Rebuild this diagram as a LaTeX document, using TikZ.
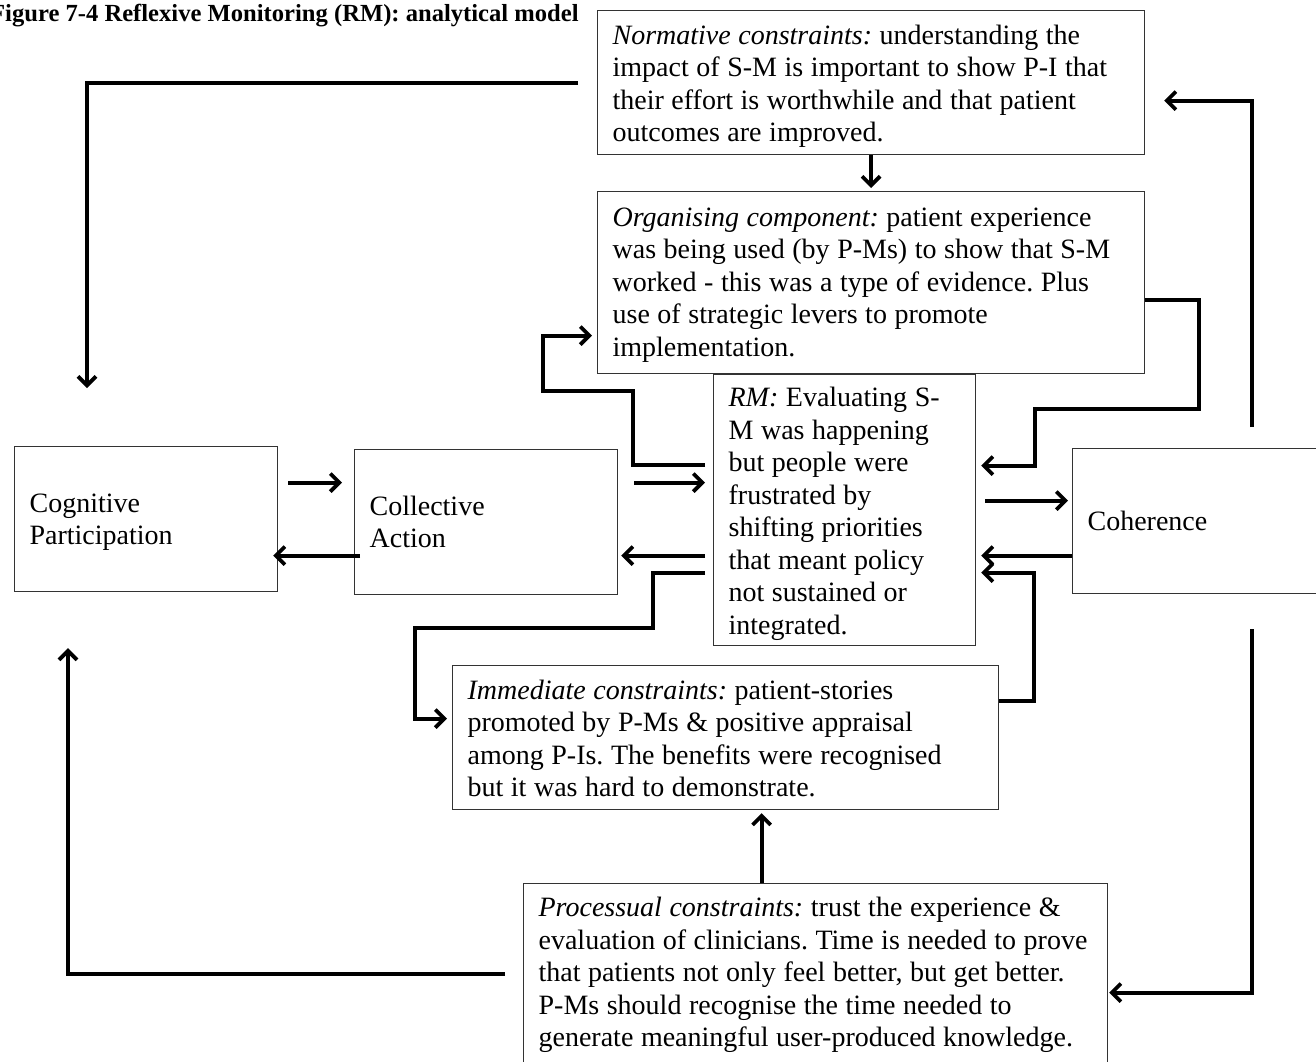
\documentclass[tikz,border=0pt]{standalone}
\usepackage{fontspec}
\setmainfont{Liberation Serif}
\usetikzlibrary{arrows.meta,calc}
% box text: Times-like face
\newcommand\boxfont{\fontsize{28}{32.5}\selectfont\frenchspacing}
% strut that lowers a text block by enlarging its first line
\newcommand\firstline[1]{\rule{0pt}{#1}}
\begin{document}
\begin{tikzpicture}[x=1pt,y=-1pt,
  box/.style={draw=black!80, line width=1.2pt, inner xsep=15pt, inner ysep=0pt,
    align=left, anchor=north west, font=\boxfont,
    execute at begin node={\spaceskip=0.27em\relax}},
  conn/.style={line width=3.8pt,
    -{Straight Barb[length=9pt,width=18pt,line width=3.8pt]}}]
\useasboundingbox (0,0) rectangle (1316,1061);

% caption
\node[anchor=base west, inner sep=0pt, font=\bfseries\fontsize{24.6}{28}\selectfont]
  (title) at (-10,21) {Figure 7-4 Reflexive Monitoring (RM): analytical model};

% boxes
\node[box, text width=517pt, minimum height=144pt] (norm) at (597,10)
  {\firstline{27pt}\textit{Normative constraints:} understanding the\\
   impact of S-M is important to show P-I that\\
   their effort is worthwhile and that patient\\
   outcomes are improved.};
\node[box, text width=517pt, minimum height=182pt] (org) at (597,191)
  {\firstline{23pt}\textit{Organising component:} patient experience\\
   was being used (by P-Ms) to show that S-M\\
   worked - this was a type of evidence. Plus\\
   use of strategic levers to promote\\
   implementation.};
\node[box, text width=232pt, minimum height=271pt] (rm) at (713,374)
  {\firstline{27pt}\textit{RM:} Evaluating S-\\
   M was happening\\
   but people were\\
   frustrated by\\
   shifting priorities\\
   that meant policy\\
   not sustained or\\
   integrated.};
\node[box, text width=233pt, minimum height=145pt] (cog) at (14,446)
  {\firstline{25pt}Cognitive\\ Participation};
\node[box, text width=233pt, minimum height=145pt] (col) at (354,449)
  {Collective\\ Action};
\node[box, text width=238pt, minimum height=145pt] (coh) at (1072,448)
  {Coherence};
\node[box, text width=516pt, minimum height=144pt] (imm) at (452,665)
  {\firstline{21pt}\textit{Immediate constraints:} patient-stories\\
   promoted by P-Ms \& positive appraisal\\
   among P-Is. The benefits were recognised\\
   but it was hard to demonstrate.};
\node[box, text width=554pt, minimum height=183pt] (proc) at (523,883)
  {\textit{Processual constraints:} trust the experience \&\\
   evaluation of clinicians. Time is needed to prove\\
   that patients not only feel better, but get better.\\
   P-Ms should recognise the time needed to\\
   generate meaningful user-produced knowledge.};

% connectors
\draw[conn] ($(norm.west)+(-19,0)$) -| ($(cog.north west)+(73,-58)$);
\draw[conn] (norm.south) -- ($(org.north)+(0,-3)$);
\draw[conn] ($(coh.north west)+(180,-21)$) |- ($(norm.east)+(19,18)$);
\draw[conn] ($(org.east)+(0,17)$) -| ++(54,109) -| ++(-164,57)
  -- ($(rm.east)+(5,-44.5)$);
\draw[conn] ($(rm.west)+(-8,-45.5)$) -- ++(-72,0) |- ++(-90,-74)
  |- ($(org.west)+(-5,53)$);
\draw[conn] ($(col.east)+(16,-39.5)$) -- ($(rm.west)+(-8,-27.5)$);
\draw[conn] ($(rm.west)+(-8,45.5)$) -- ($(col.east)+(3,33.5)$);
\draw[conn] ($(rm.west)+(-8,62.5)$) -- ++(-52,0) |- ++(-238,55)
  |- ($(imm.west)+(-5,-19)$);
\draw[conn] ($(cog.east)+(10,-36.5)$) -- ($(col.west)+(-12,-39.5)$);
\draw[conn] ($(col.west)+(6,33.5)$) -- ($(cog.east)+(-5,36.5)$);
\draw[conn] ($(rm.east)+(9,-9.5)$) -- ($(coh.west)+(-4,-20.5)$);
\draw[conn] ($(coh.west)+(0,34.5)$) -- ($(rm.east)+(5,45.5)$);
\draw[conn] ($(imm.east)+(0,-37)$) -| ++(35,-128) -- ($(rm.east)+(5,62.5)$);
\draw[conn] ($(proc.north)+(-54,0)$) -- ($(imm.south)+(36,3)$);
\draw[conn] ($(coh.south west)+(180,35)$) |- ($(proc.east)+(1,17.5)$);
\draw[conn] ($(proc.west)+(-18,-1.5)$) -| ($(cog.south west)+(54,56)$);
\end{tikzpicture}
\end{document}
